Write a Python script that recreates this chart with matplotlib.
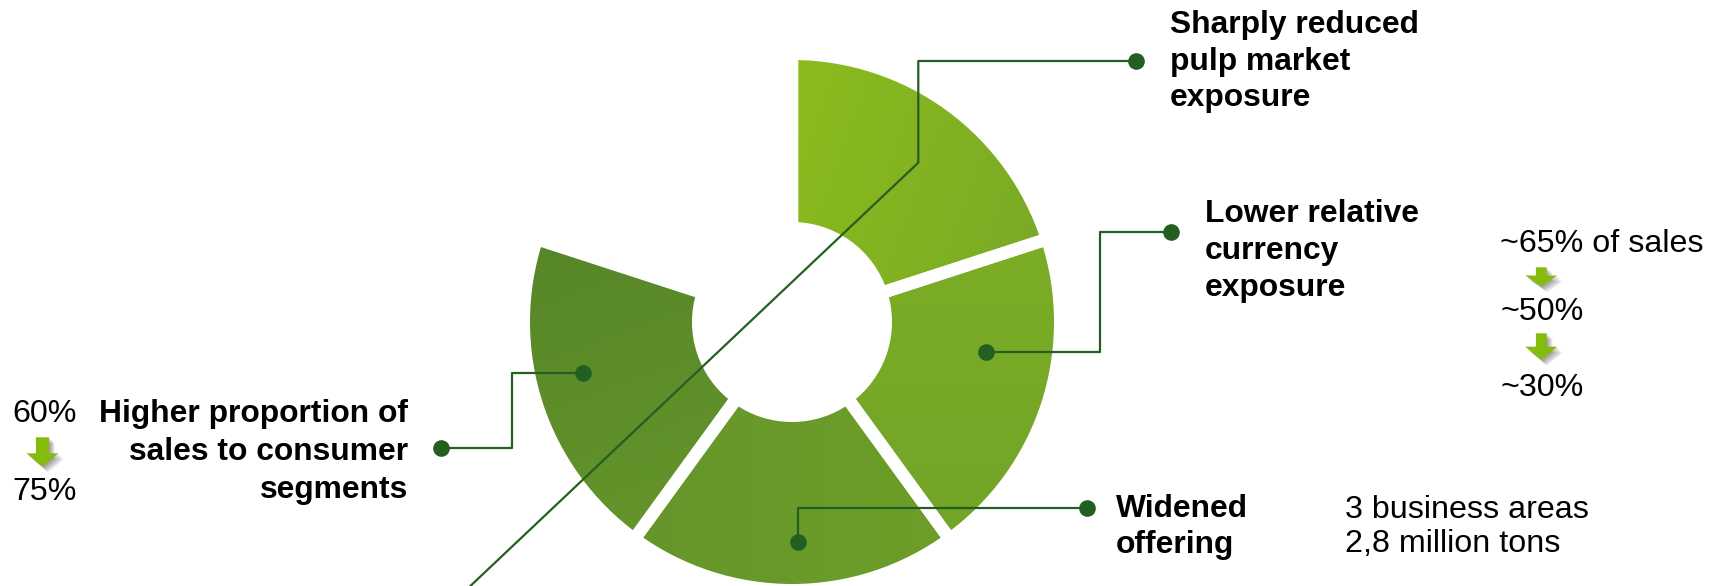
import matplotlib
matplotlib.use("Agg")
import numpy as np
import matplotlib.pyplot as plt
import matplotlib.patheffects as pe
from matplotlib.patches import Polygon

plt.rcParams["font.family"] = ["Liberation Sans", "DejaVu Sans"]

# ---- content -------------------------------------------------------------
# five equal slots around the ring; the last slot is left empty
segment_names = [
    "Sharply reduced\npulp market\nexposure",
    "Lower relative\ncurrency\nexposure",
    "Widened\noffering",
    "Higher proportion of\nsales to consumer\nsegments",
    "",
]
segment_shares = [1, 1, 1, 1, 1]
# each segment is shaded from a first to a second tone along a direction (deg)
segment_shades = [
    ("#8cbc1c", "#7aaa26", -20),
    ("#7cad25", "#72a428", -90),
    ("#66962c", "#6e9e28", 0),
    ("#578628", "#64942a", -70),
]

currency_steps = ["~65% of sales", "~50%", "~30%"]
consumer_steps = ["60%", "75%"]
offering_facts = ["3 business areas", "2,8 million tons"]

# ---- canvas (1 data unit = 1 pixel, y measured from the top) -------------
W, H = 1721, 586
fig = plt.figure(figsize=(W / 100, H / 100), dpi=100)
ax = fig.add_axes([0, 0, 1, 1])


def P(x, y):
    return x, H - y


LEAD = "#245f22"
GAP = 12.6          # white gap between segments, px
R_OUT, R_IN = 262, 100
CX, CY = 792, 322

wedges, _ = ax.pie(
    segment_shares,
    colors=["none"] * len(segment_shares),
    startangle=90,
    counterclock=False,
    center=P(CX, CY),
    radius=R_OUT + GAP / 2,
    wedgeprops=dict(width=(R_OUT + GAP / 2) - (R_IN - GAP / 2),
                    edgecolor="white", linewidth=GAP * 0.72, zorder=2),
    frame=True,
)
wedges[-1].set_edgecolor("none")

# shaded fill under each ring segment, clipped to its shape
for wedge, (c0, c1, ang) in zip(wedges, segment_shades):
    x0, y0 = P(CX - R_OUT - 10, CY + R_OUT + 10)
    x1, y1 = P(CX + R_OUT + 10, CY - R_OUT - 10)
    gx, gy = np.meshgrid(np.linspace(x0, x1, 120), np.linspace(y0, y1, 120))
    a = np.deg2rad(ang)
    proj = (gx - x0) * np.cos(a) + (gy - y0) * np.sin(a)
    verts = wedge.get_path().vertices
    pv = (verts[:, 0] - x0) * np.cos(a) + (verts[:, 1] - y0) * np.sin(a)
    t = np.clip((proj - pv.min()) / (pv.max() - pv.min()), 0, 1)
    ca = np.array(matplotlib.colors.to_rgb(c0))
    cb = np.array(matplotlib.colors.to_rgb(c1))
    img = ca[None, None, :] * (1 - t[..., None]) + cb[None, None, :] * t[..., None]
    im = ax.imshow(img, extent=(x0, x1, y0, y1), origin="lower",
                   interpolation="bilinear", zorder=1)
    im.set_clip_path(wedge)

ax.set_xlim(0, W)
ax.set_ylim(0, H)
ax.set_aspect("equal")
ax.axis("off")

lw = 1.6
ms = 12


def leader(points, dots):
    xs, ys = zip(*[P(x, y) for x, y in points])
    ax.plot(xs, ys, color=LEAD, lw=lw, zorder=5, solid_capstyle="butt")
    for d in dots:
        ax.plot(*P(*d), "o", color=LEAD, ms=ms, mec="none", zorder=6)


# top segment: elbow up to the label, long diagonal tail to the lower left
slope = 0.945
tail_y = 620
leader([(1136, 61), (918.3, 61), (918.3, 162.7),
        (918.3 - (tail_y - 162.7) / slope, tail_y)], [(1136, 61)])
# right segment
leader([(986, 352.3), (1100, 352.3), (1100, 231.7), (1170.7, 231.7)],
       [(986, 352.3), (1170.7, 231.7)])
# bottom segment
leader([(798, 541.7), (798, 508), (1087.3, 508)],
       [(798, 541.7), (1087.3, 508)])
# left segment
leader([(582.7, 373.3), (511.7, 373.3), (511.7, 448.3), (440.7, 448.3)],
       [(582.7, 373.3), (440.7, 448.3)])

# ---- labels ---------------------------------------------------------------
BOLD = dict(fontsize=22.9, fontweight="bold", color="black", va="baseline")
REG = dict(fontsize=23.2, color="black", va="baseline")


def lines(text, x, y0, step, **kw):
    for i, t in enumerate(text.split("\n")):
        ax.text(*P(x, y0 + i * step), t, **kw)


lines(segment_names[0], 1170, 33.3, 36.5, ha="left", **BOLD)
lines(segment_names[1], 1205, 221.7, 37.3, ha="left", **BOLD)
lines(segment_names[2], 1116, 516.7, 36.5, ha="left", **BOLD)
lines(segment_names[3], 408.3, 421.7, 38.2, ha="right", **BOLD)

ax.text(*P(1500, 251.7), currency_steps[0], ha="left", **REG)
ax.text(*P(1500, 320.5), currency_steps[1], ha="left", **REG)
ax.text(*P(1500, 396), currency_steps[2], ha="left", **REG)

ax.text(*P(12.7, 422), consumer_steps[0], ha="left", **REG)
ax.text(*P(12.7, 500), consumer_steps[1], ha="left", **REG)

ax.text(*P(1345, 518.3), offering_facts[0], ha="left", **REG)
ax.text(*P(1345, 552), offering_facts[1], ha="left", **REG)


# ---- small downward arrows between the figures ----------------------------
def down_arrow(cx, top, neck, tip, shaft=5.5, head=16):
    pts = [(cx - shaft, top), (cx + shaft, top), (cx + shaft, neck),
           (cx + head, neck), (cx, tip), (cx - head, neck), (cx - shaft, neck)]
    poly = Polygon([P(x, y) for x, y in pts], closed=True,
                   facecolor="#84bb0c", edgecolor="none", zorder=4)
    soft = [pe.SimplePatchShadow(offset=(d, -d), shadow_rgbFace="black",
                                 alpha=0.10) for d in (1, 2, 3, 4)]
    poly.set_path_effects(soft + [pe.Normal()])
    ax.add_patch(poly)


down_arrow(42.5, 437.3, 453.3, 466.7, shaft=6.6)
down_arrow(1541.3, 267.3, 275.5, 286.5, shaft=5.4)
down_arrow(1541.3, 333.3, 346.7, 360, shaft=5.4)

fig.savefig("out.png", dpi=100, facecolor="white")
